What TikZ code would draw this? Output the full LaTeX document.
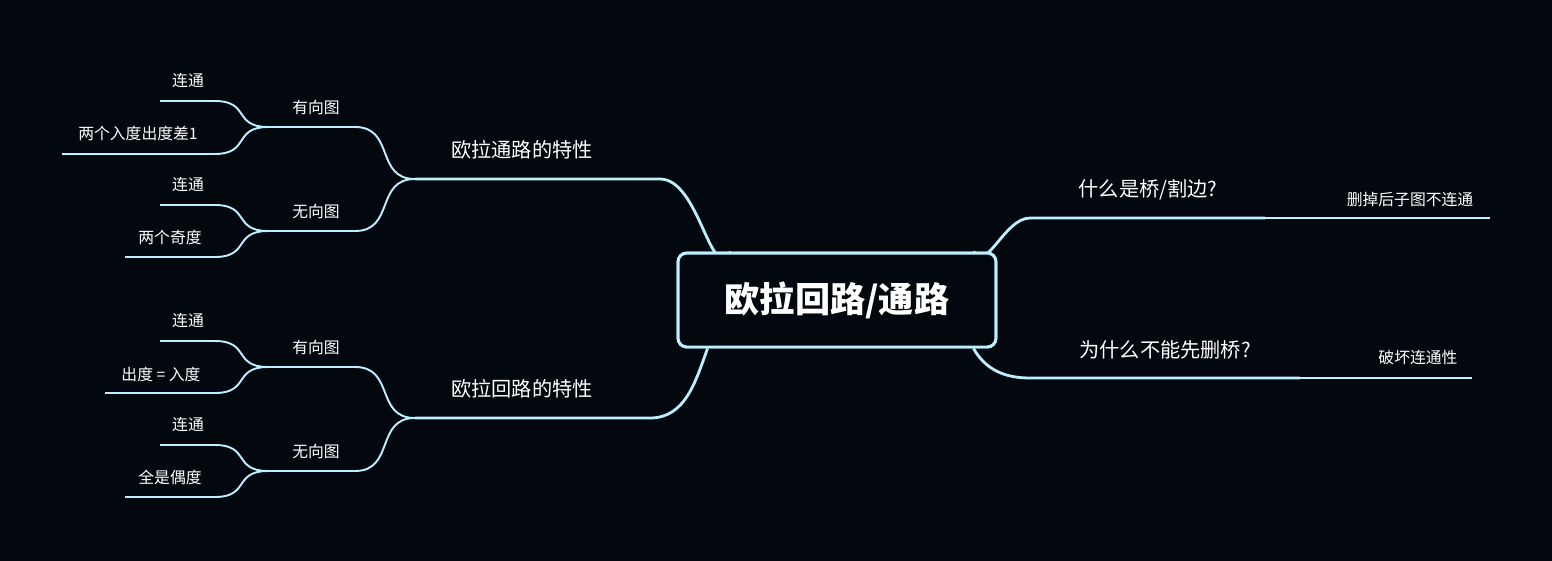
\documentclass[tikz,border=0pt]{standalone}
\usepackage{fontspec}
\newfontfamily\cjk{Noto Sans CJK SC}
\usetikzlibrary{positioning}
\definecolor{bg}{HTML}{02080D}
\definecolor{ln}{HTML}{BDEFFF}

\begin{document}
\begin{tikzpicture}[x=0.02cm,y=-0.02cm]

  \tikzstyle{root}=[draw=ln,line width=1.7pt,rounded corners=5pt,fill=bg,
    minimum width=6.36cm,minimum height=1.88cm,text=white,font=\cjk\bfseries\fontsize{20}{24}\selectfont];
  \tikzstyle{mid}=[text=white,font=\cjk\fontsize{11.5}{14}\selectfont];
  \tikzstyle{sub}=[text=white,font=\cjk\fontsize{9}{11}\selectfont];
  \tikzstyle{thickline}=[ln,line width=1.6pt];
  \tikzstyle{thinline}=[ln,line width=1.1pt];

  \fill[bg] (0,0) rectangle (1552,561);
  \useasboundingbox (0,0) rectangle (1552,561);

  \node [root] (r) at (837,300) {欧拉回路/通路};

  %% left, upper
  \node [mid] (tl) at (522,150) {欧拉通路的特性};
  \coordinate (tla) at (415,179); \coordinate (tlb) at (660,179);
  \draw[thickline] (r.north west) ++(54,0) coordinate (rtl) to[out=240,in=0] (tlb) -- (tla);

  \node [sub] (tl1) at (316,107) {有向图};
  \coordinate (tl1a) at (268,127); \coordinate (tl1b) at (355,127);
  \draw[thinline] (tla) .. controls +(-40,0) and +(40,0) .. (tl1b) -- (tl1a);
  \node [sub] (tl11) at (188,81) {连通};
  \coordinate (tl11a) at (160,101); \coordinate (tl11b) at (215,101);
  \draw[thinline] (tl1a) .. controls +(-35,0) and +(35,0) .. (tl11b) -- (tl11a);
  \node [sub] (tl12) at (138,133) {两个入度出度差1};
  \coordinate (tl12a) at (62,154); \coordinate (tl12b) at (215,154);
  \draw[thinline] (tl1a) .. controls +(-35,0) and +(35,0) .. (tl12b) -- (tl12a);

  \node [sub] (tl2) at (316,211) {无向图};
  \coordinate (tl2a) at (268,231); \coordinate (tl2b) at (355,231);
  \draw[thinline] (tla) .. controls +(-40,0) and +(40,0) .. (tl2b) -- (tl2a);
  \node [sub] (tl21) at (188,185) {连通};
  \coordinate (tl21a) at (160,205); \coordinate (tl21b) at (215,205);
  \draw[thinline] (tl2a) .. controls +(-35,0) and +(35,0) .. (tl21b) -- (tl21a);
  \node [sub] (tl22) at (170,237) {两个奇度};
  \coordinate (tl22a) at (125,257); \coordinate (tl22b) at (215,257);
  \draw[thinline] (tl2a) .. controls +(-35,0) and +(35,0) .. (tl22b) -- (tl22a);

  %% left, lower
  \node [mid] (bl) at (522,389) {欧拉回路的特性};
  \coordinate (bla) at (415,418); \coordinate (blb) at (650,418);
  \draw[thickline] (r.south west) ++(31,0) coordinate (rbl) to[out=250,in=0] (blb) -- (bla);

  \node [sub] (bl1) at (316,347) {有向图};
  \coordinate (bl1a) at (268,367); \coordinate (bl1b) at (355,367);
  \draw[thinline] (bla) .. controls +(-40,0) and +(40,0) .. (bl1b) -- (bl1a);
  \node [sub] (bl11) at (188,321) {连通};
  \coordinate (bl11a) at (160,341); \coordinate (bl11b) at (215,341);
  \draw[thinline] (bl1a) .. controls +(-35,0) and +(35,0) .. (bl11b) -- (bl11a);
  \node [sub] (bl12) at (161,374) {出度 = 入度};
  \coordinate (bl12a) at (105,393); \coordinate (bl12b) at (215,393);
  \draw[thinline] (bl1a) .. controls +(-35,0) and +(35,0) .. (bl12b) -- (bl12a);

  \node [sub] (bl2) at (316,451) {无向图};
  \coordinate (bl2a) at (268,471); \coordinate (bl2b) at (355,471);
  \draw[thinline] (bla) .. controls +(-40,0) and +(40,0) .. (bl2b) -- (bl2a);
  \node [sub] (bl21) at (188,425) {连通};
  \coordinate (bl21a) at (160,445); \coordinate (bl21b) at (215,445);
  \draw[thinline] (bl2a) .. controls +(-35,0) and +(35,0) .. (bl21b) -- (bl21a);
  \node [sub] (bl22) at (170,477) {全是偶度};
  \coordinate (bl22a) at (125,497); \coordinate (bl22b) at (215,497);
  \draw[thinline] (bl2a) .. controls +(-35,0) and +(35,0) .. (bl22b) -- (bl22a);

  %% right
  \node [mid] (tr) at (1148,190) {什么是桥/割边?};
  \coordinate (tra) at (1030,218); \coordinate (trb) at (1265,218);
  \draw[thickline] (r.north east) ++(-24,0) coordinate (rtr) to[out=300,in=180] (tra) -- (trb);
  \node [sub] (tr1) at (1410,200) {删掉后子图不连通};
  \coordinate (tr1b) at (1490,218);
  \draw[thinline] (trb) -- (tr1b);

  \node [mid] (br) at (1165,350) {为什么不能先删桥?};
  \coordinate (bra) at (1030,378); \coordinate (brb) at (1300,378);
  \draw[thickline] (r.south east) ++(-24,0) coordinate (rbr) to[out=300,in=180] (bra) -- (brb);
  \node [sub] (br1) at (1418,358) {破坏连通性};
  \coordinate (br1b) at (1472,378);
  \draw[thinline] (brb) -- (br1b);

  \node [root] at (r) {欧拉回路/通路};

\end{tikzpicture}
\end{document}
